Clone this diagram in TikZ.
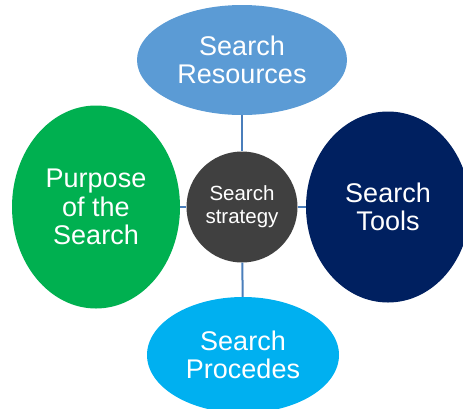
\documentclass[tikz,border=0pt]{standalone}
\usepackage{fontspec}
\setmainfont{Liberation Sans}
\usetikzlibrary{shapes.geometric}
\definecolor{topblue}{HTML}{5B9BD5}
\definecolor{midgray}{HTML}{404040}
\definecolor{botblue}{HTML}{00B0F0}
\definecolor{leftgreen}{HTML}{00B050}
\definecolor{rightnavy}{HTML}{002060}
\definecolor{linkblue}{HTML}{4A7EBB}
\begin{document}
\begin{tikzpicture}[x=1pt,y=-1pt,
  blob/.style={ellipse, inner sep=0pt, text=white, align=center, font=\fontsize{27}{28.5}\selectfont},
  hub/.style={circle, inner sep=0pt, text=white, align=center, font=\fontsize{20.5}{23}\selectfont},
  link/.style={draw=linkblue, line width=2pt}]
\useasboundingbox (0,0) rectangle (463,408);
\node[blob, fill=topblue, minimum width=210pt, minimum height=110pt] (res) at (242,60) {Search\\Resources};
\node[hub, fill=midgray, minimum size=111pt] (strat) at (242,207) {Search\\strategy};
\node[blob, fill=botblue, minimum width=192pt, minimum height=116pt] (proc) at (243,355) {Search\\Procedes};
\node[blob, fill=leftgreen, minimum width=168pt, minimum height=203pt] (purp) at (96,207) {Purpose\\of the\\Search};
\node[blob, fill=rightnavy, minimum width=164pt, minimum height=191pt] (tools) at (388,207) {Search\\Tools};
\draw[link] (res) -- (strat);
\draw[link] (strat) -- (proc);
\draw[link] (purp) -- (strat);
\draw[link] (strat) -- (tools);
\end{tikzpicture}
\end{document}
